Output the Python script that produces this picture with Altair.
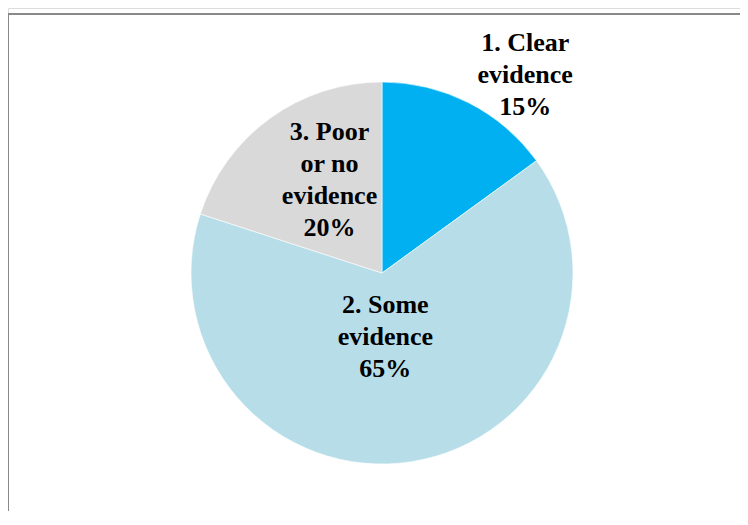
import altair as alt
import pandas as pd

# Data
names = ["1. Clear\nevidence", "2. Some\nevidence", "3. Poor\nor no\nevidence"]
values = [15, 65, 20]
colors = ["#00B0F0", "#B7DEE8", "#D9D9D9"]

df = pd.DataFrame({"idx": list(range(len(names))), "name": names, "value": values})

W, H = 732, 503
CX, CY = 374, 265
R = 191

color_scale = alt.Scale(domain=names, range=colors)

base = alt.Chart(df)

pie = base.mark_arc(outerRadius=R, x=CX, y=CY, stroke="white", strokeWidth=0.6).encode(
    theta=alt.Theta("value:Q", stack=True),
    color=alt.Color("name:N", scale=color_scale, legend=None),
    order=alt.Order("idx:Q"),
)

# label placement (radius from centre, pixel nudges) per slice
placement = {0: (223, 42, -31), 1: (66, -7, -33), 2: (108, 11, -54)}

layers = [pie]
for i, (r, dx, dy) in placement.items():
    lbl = (
        base.transform_window(cum="sum(value)", sort=[alt.SortField("idx")])
        .transform_joinaggregate(total="sum(value)")
        .transform_calculate(
            mid="(datum.cum - datum.value / 2) / datum.total",
            label="datum.name + '\\n' + datum.value + '%'",
        )
        .transform_filter(f"datum.idx == {i}")
        .mark_text(
            radius=r, x=CX, y=CY, dx=dx, dy=dy,
            font="Liberation Serif", fontSize=26, fontWeight="bold",
            color="black", lineBreak="\n", lineHeight=32,
            align="center", baseline="middle",
        )
        .encode(
            theta=alt.Theta("mid:Q", scale=alt.Scale(domain=[0, 1]), stack=None),
            text="label:N",
        )
    )
    layers.append(lbl)

frame_top = alt.Chart(df).mark_rule(color="#898989", strokeWidth=2).encode(
    x=alt.value(0), x2=alt.value(W + 20), y=alt.value(6)
)
frame_left = alt.Chart(df).mark_rule(color="#898989", strokeWidth=2).encode(
    x=alt.value(0), y=alt.value(6), y2=alt.value(H + 20)
)
layers += [frame_top, frame_left]

chart = (
    alt.layer(*layers)
    .resolve_scale(theta="independent")
    .properties(width=W, height=H, padding=0, autosize=alt.AutoSizeParams(type="none"))
    .configure_view(stroke=None)
    .configure(background="white")
)

chart.save("out.html", embed_options={"renderer": "svg", "actions": False})
